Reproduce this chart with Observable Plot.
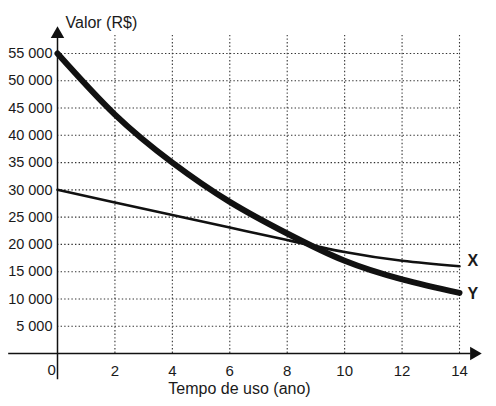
<!DOCTYPE html>
<html>
<head>
<meta charset="utf-8">
<script src="https://cdn.jsdelivr.net/npm/d3@7"></script>
<script src="https://cdn.jsdelivr.net/npm/@observablehq/plot@0.6"></script>
<style>
  body { margin: 0; background: #fff; }
</style>
</head>
<body>
<div id="chart"></div>
<script>
// tempo de uso (ano) e valores
const anos = [0, 2, 4, 6, 8, 10, 12, 14]
const valorX = [30000, 27700, 25400, 23100, 20800, 18600, 17000, 16000]
const valorY = [55000, 43800, 35000, 27800, 22000, 17000, 13600, 11100]

const ticksAno = [2, 4, 6, 8, 10, 12, 14]
const ticksValor = [5000, 10000, 15000, 20000, 25000, 30000, 35000, 40000, 45000, 50000, 55000]

// extensao das setas dos eixos (em unidades dos dados)
const eixoX = [-1.7, 14.4]
const eixoY = [-4800, 58000]
const topoGrade = 58300

const serieX = anos.map((a, i) => ({ano: a, valor: valorX[i]}))
const serieY = anos.map((a, i) => ({ano: a, valor: valorY[i]}))

const fmt = d => d3.format(",")(d).replace(",", " ")

let chart = Plot.plot({
  width: 496,
  height: 406,
  marginLeft: 57,
  marginRight: 37,
  marginTop: 53,
  marginBottom: 53,
  x: { domain: [0, 14] },
  y: { domain: [0, 55000] },
  marks: [
    // grade pontilhada
    Plot.ruleX(ticksAno, {y1: 0, y2: topoGrade, stroke: '#333', strokeWidth: 1.1, strokeDasharray: '1.4,2.2'}),
    Plot.ruleY(ticksValor, {x1: 0, x2: 14, stroke: '#333', strokeWidth: 1.1, strokeDasharray: '1.4,2.2'}),
    // eixos com setas
    Plot.ruleY([0], {x1: eixoX[0], x2: eixoX[1], stroke: '#111', strokeWidth: 1.5}),
    Plot.ruleX([0], {y1: eixoY[0], y2: eixoY[1], stroke: '#111', strokeWidth: 1.5}),
    Plot.dot([0], {x: eixoX[1], y: 0, symbol: 'triangle', r: 5, fill: '#111', rotate: 90, dx: 3}),
    Plot.dot([0], {x: 0, y: eixoY[1], symbol: 'triangle', r: 5, fill: '#111', dy: -3}),
    Plot.axisY(ticksValor, {tickSize: 0, tickPadding: 5, tickFormat: fmt, fontSize: 14.5, label: null}),
    Plot.axisX(ticksAno, {tickSize: 0, tickPadding: 12, fontSize: 15, label: null}),
    Plot.text(['0'], {frameAnchor: 'bottom-left', dx: -10, dy: 17, fontSize: 15, lineAnchor: 'middle'}),
    // curvas
    Plot.line(serieX, {x: 'ano', y: 'valor', curve: 'natural', stroke: '#111', strokeWidth: 2.6}),
    Plot.line(serieY, {x: 'ano', y: 'valor', curve: 'natural', stroke: '#111', strokeWidth: 6}),
    Plot.text(serieX.slice(-1), {x: 'ano', y: 'valor', text: () => 'X', dx: 8, dy: -5, textAnchor: 'start', fontSize: 16, fontWeight: 'bold'}),
    Plot.text(serieY.slice(-1), {x: 'ano', y: 'valor', text: () => 'Y', dx: 8, dy: 1, textAnchor: 'start', fontSize: 16, fontWeight: 'bold'}),
    // titulos
    Plot.text(['Valor (R$)'], {frameAnchor: 'top-left', dx: 8, dy: -31, textAnchor: 'start', lineAnchor: 'middle', fontSize: 16}),
    Plot.text(['Tempo de uso (ano)'], {frameAnchor: 'bottom', dx: -19, dy: 35, lineAnchor: 'middle', fontSize: 16}),
  ],
  style: {
    background: '#ffffff',
    color: '#1a1a1a',
    fontFamily: '"Liberation Sans", Arial, sans-serif',
    fontSize: 15,
  }
})
d3.select('#chart').append(() => chart)
</script>
</body>
</html>
